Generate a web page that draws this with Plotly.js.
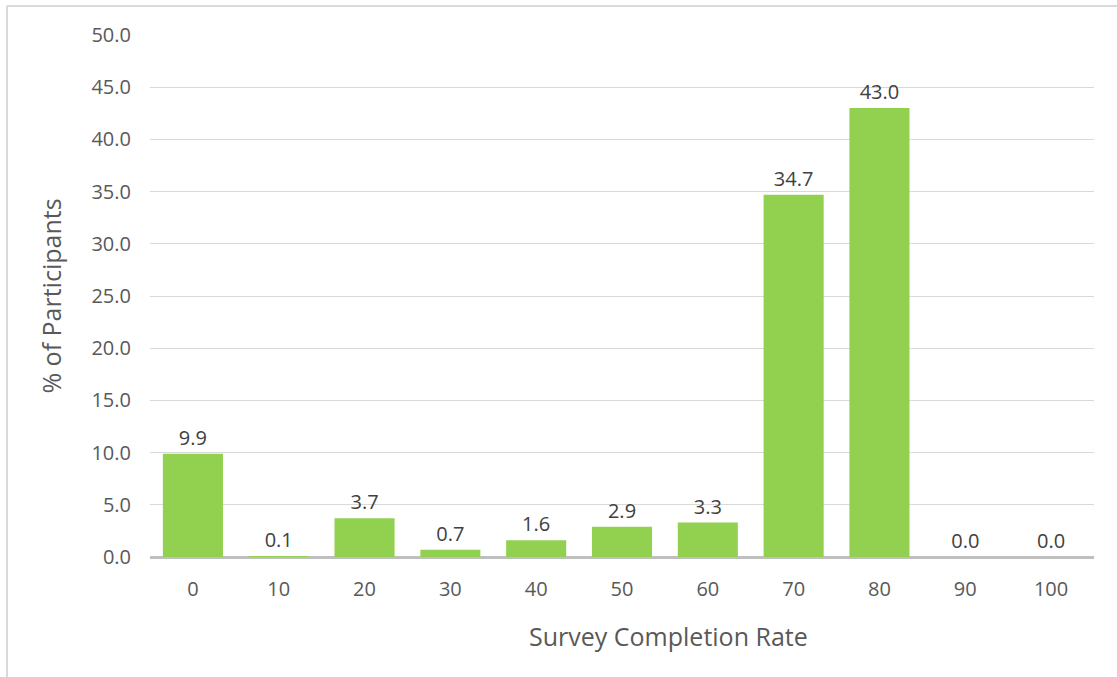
<!DOCTYPE html>
<html>
<head>
<meta charset="utf-8">
<script src="https://cdn.plot.ly/plotly-3.0.1.min.js"></script>
<style>
  html, body { margin: 0; padding: 0; background: #ffffff; }
  #chart { width: 1117px; height: 677px; }
</style>
</head>
<body>
<div id="chart"></div>
<script>
// Completion-rate buckets and share of participants in each
const completionRates = ['0', '10', '20', '30', '40', '50', '60', '70', '80', '90', '100'];
const participantPct = [9.9, 0.1, 3.7, 0.7, 1.6, 2.9, 3.3, 34.7, 43.0, 0.0, 0.0];
const yTickValues = [0, 5, 10, 15, 20, 25, 30, 35, 40, 45, 50];

const FONT = '"Open Sans", "Noto Sans", sans-serif';

// Plot area in pixels, used to place the frame lines in paper units
const W = 1117, H = 677;
const M = { l: 150, r: 23, t: 35, b: 120 };
const plotW = W - M.l - M.r, plotH = H - M.t - M.b;
const px2x = px => (px - M.l) / plotW;
const py2y = py => (H - M.b - py) / plotH;

const trace = {
  type: 'bar',
  x: completionRates,
  y: participantPct,
  marker: { color: '#92d050', line: { width: 0 } },
  width: 0.7,
  text: participantPct.map(v => v.toFixed(1)),
  textposition: 'outside',
  cliponaxis: false,
  textfont: { family: FONT, size: 20, color: '#404040' },
  hoverinfo: 'x+y'
};

const layout = {
  width: W,
  height: H,
  margin: M,
  paper_bgcolor: '#ffffff',
  plot_bgcolor: '#ffffff',
  showlegend: false,
  font: { family: FONT, color: '#595959' },
  xaxis: {
    type: 'category',
    tickfont: { family: FONT, size: 20, color: '#595959' },
    showgrid: false,
    showline: false,
    zeroline: false,
    ticks: '',
    ticklabelstandoff: 18
  },
  yaxis: {
    range: [0, 50],
    tickvals: yTickValues,
    ticktext: yTickValues.map(v => v.toFixed(1)),
    tickfont: { family: FONT, size: 20, color: '#595959' },
    showgrid: true,
    gridcolor: '#d9d9d9',
    gridwidth: 1,
    zeroline: true,
    zerolinecolor: '#bfbfbf',
    zerolinewidth: 3,
    showline: false,
    ticks: '',
    ticklabelstandoff: 18,
    title: {
      text: '% of Participants',
      font: { family: FONT, size: 25, color: '#595959' },
      standoff: 22
    }
  },
  annotations: [{
    text: 'Survey Completion Rate',
    xref: 'paper', yref: 'paper',
    x: px2x(668), y: py2y(636),
    xanchor: 'center', yanchor: 'middle',
    showarrow: false,
    font: { family: FONT, size: 25, color: '#595959' }
  }],
  shapes: [
    { type: 'line', xref: 'paper', yref: 'paper',
      x0: px2x(7), x1: px2x(1130), y0: py2y(6), y1: py2y(6),
      line: { color: '#d9d9d9', width: 2 } },
    { type: 'line', xref: 'paper', yref: 'paper',
      x0: px2x(7), x1: px2x(7), y0: py2y(6), y1: py2y(690),
      line: { color: '#d9d9d9', width: 2 } }
  ]
};

Plotly.newPlot('chart', [trace], layout, { displayModeBar: false, staticPlot: true });
</script>
</body>
</html>
